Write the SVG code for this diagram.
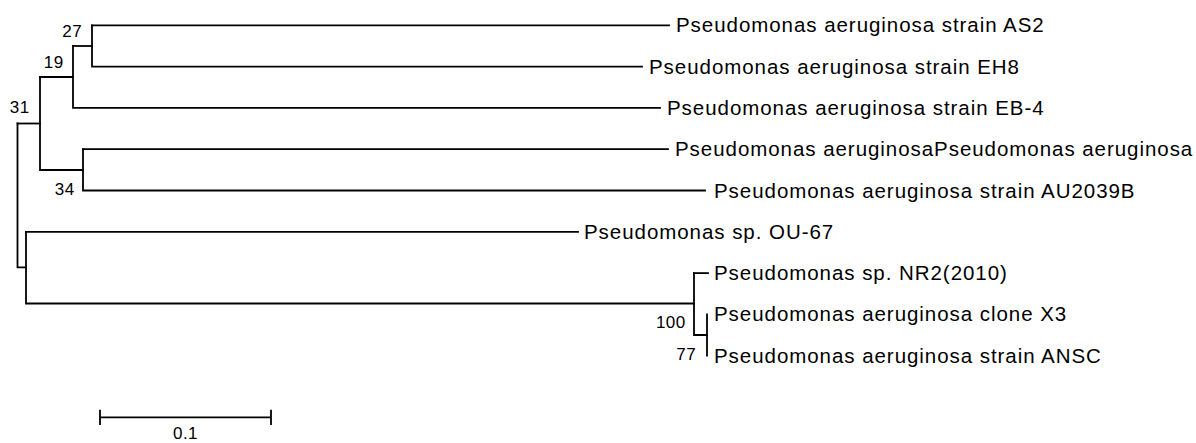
<svg xmlns="http://www.w3.org/2000/svg" width="1196" height="443" viewBox="0 0 1196 443">
  <style>
    .br { stroke: #000; stroke-width: 1.8; fill: none; stroke-linecap: square; }
    .leaf { font-family: "Liberation Sans", Arial, sans-serif; font-size: 20.5px; letter-spacing: 0.95px; fill: #000; }
    .bs { font-family: "Liberation Sans", Arial, sans-serif; font-size: 17px; letter-spacing: 0.4px; fill: #000; text-anchor: end; }
    .scale { font-family: "Liberation Sans", Arial, sans-serif; font-size: 17px; letter-spacing: 0.4px; fill: #000; text-anchor: middle; }
  </style>
  <rect width="1196" height="443" fill="#fff"/>

  <!-- branches of the tree -->
  <g id="connectors" class="br">
    <!-- root -->
    <path d="M17.5,123.5 V267.3 H26"/>
    <path d="M17.5,123.5 H40"/>
    <!-- node 31 -->
    <path d="M40,77 V170 H83"/>
    <path d="M40,77 H73"/>
    <!-- node 19 -->
    <path d="M73,46 V107.9 H660"/>
    <path d="M73,46 H92"/>
    <!-- node 27 -->
    <path d="M92,25.3 V66.6 H642"/>
    <path d="M92,25.3 H669"/>
    <!-- node 34 -->
    <path d="M83,149.2 V190.5 H705"/>
    <path d="M83,149.2 H668"/>
    <!-- lower clade -->
    <path d="M26,231.8 V303.5 H694"/>
    <path d="M26,231.8 H578"/>
    <!-- node 100 -->
    <path d="M694,273.1 V335 H707"/>
    <path d="M694,273.1 H708"/>
    <!-- node 77 -->
    <path d="M707,314.4 V355.7"/>
  </g>

  <!-- internal nodes with bootstrap values -->
  <g id="node-27"><text class="bs" x="82" y="36.7">27</text></g>
  <g id="node-19"><text class="bs" x="63.5" y="68.3">19</text></g>
  <g id="node-31"><text class="bs" x="29.5" y="113.3">31</text></g>
  <g id="node-34"><text class="bs" x="74.5" y="195">34</text></g>
  <g id="node-100"><text class="bs" x="685.5" y="328">100</text></g>
  <g id="node-77"><text class="bs" x="696" y="360">77</text></g>

  <!-- leaves -->
  <g id="leaf-as2"><text class="leaf" x="676" y="32.3">Pseudomonas aeruginosa strain AS2</text></g>
  <g id="leaf-eh8"><text class="leaf" x="649" y="73.6">Pseudomonas aeruginosa strain EH8</text></g>
  <g id="leaf-eb4"><text class="leaf" x="667" y="114.9">Pseudomonas aeruginosa strain EB-4</text></g>
  <g id="leaf-pa"><text class="leaf" x="675" y="156.2">Pseudomonas aeruginosaPseudomonas aeruginosa</text></g>
  <g id="leaf-au2039b"><text class="leaf" x="714" y="197.5">Pseudomonas aeruginosa strain AU2039B</text></g>
  <g id="leaf-ou67"><text class="leaf" x="584" y="238.8">Pseudomonas sp. OU-67</text></g>
  <g id="leaf-nr2"><text class="leaf" x="714" y="280.1">Pseudomonas sp. NR2(2010)</text></g>
  <g id="leaf-x3"><text class="leaf" x="714" y="321.4">Pseudomonas aeruginosa clone X3</text></g>
  <g id="leaf-ansc"><text class="leaf" x="714" y="362.7">Pseudomonas aeruginosa strain ANSC</text></g>

  <!-- scale bar -->
  <g id="scale-bar">
    <path class="br" d="M100,417.3 H271 M100,410.7 V424 M271,410.7 V424"/>
    <text class="scale" x="185.5" y="438.5">0.1</text>
  </g>
</svg>
